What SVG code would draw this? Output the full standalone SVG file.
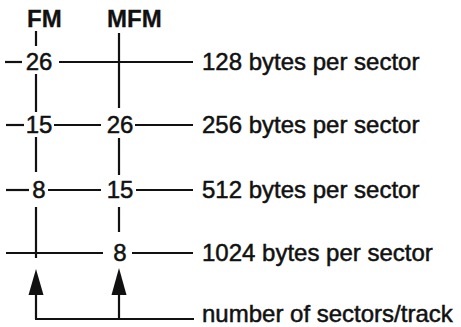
<svg xmlns="http://www.w3.org/2000/svg" width="461" height="327" viewBox="0 0 461 327">
<style>
text{font-family:"Liberation Sans",Arial,sans-serif;font-size:24px;fill:#111;stroke:#111;stroke-width:0.5}
.h{font-weight:bold;stroke-width:0.3}
.n{text-anchor:middle}
.c line{stroke:#111;stroke-width:2.2;fill:none}
.c path{fill:#111;stroke:none}
</style>
<rect width="461" height="327" fill="#fff"/>
<g class="c" id="connectors">
<!-- row 1 -->
<line x1="5" y1="62" x2="22" y2="62"/>
<line x1="59" y1="62" x2="193" y2="62"/>
<!-- row 2 -->
<line x1="6" y1="125" x2="24" y2="125"/>
<line x1="54" y1="125" x2="101" y2="125"/>
<line x1="135" y1="125" x2="193" y2="125"/>
<!-- row 3 -->
<line x1="6" y1="190" x2="29" y2="190"/>
<line x1="48" y1="190" x2="101" y2="190"/>
<line x1="136" y1="190" x2="193" y2="190"/>
<!-- row 4 -->
<line x1="6" y1="253" x2="103" y2="253"/>
<line x1="132" y1="253" x2="193" y2="253"/>
<!-- FM vertical -->
<line x1="36" y1="31" x2="36" y2="46"/>
<line x1="36" y1="74" x2="36" y2="112"/>
<line x1="36" y1="137" x2="36" y2="172"/>
<line x1="36" y1="207" x2="36" y2="258"/>
<!-- MFM vertical -->
<line x1="119" y1="33" x2="119" y2="108"/>
<line x1="119" y1="138" x2="119" y2="175"/>
<line x1="119" y1="207" x2="119" y2="232"/>
<!-- arrows -->
<line x1="36" y1="292" x2="36" y2="319"/>
<line x1="119" y1="292" x2="119" y2="319"/>
<line x1="35" y1="319" x2="194" y2="319"/>
<path d="M36,269 L43.5,295 L28.5,295 Z"/>
<path d="M119,268 L126.5,295 L111.5,295 Z"/>
</g>
<g id="hdr-fm"><text class="h" x="27" y="27">FM</text></g>
<g id="hdr-mfm"><text class="h" x="107" y="27">MFM</text></g>
<g id="fm-26"><text class="n" x="39" y="70">26</text></g>
<g id="fm-15"><text class="n" x="39" y="133">15</text></g>
<g id="fm-8"><text class="n" x="39" y="198">8</text></g>
<g id="mfm-26"><text class="n" x="120" y="133">26</text></g>
<g id="mfm-15"><text class="n" x="120" y="198">15</text></g>
<g id="mfm-8"><text class="n" x="120" y="261">8</text></g>
<g id="lbl-128"><text x="202" y="70">128 bytes per sector</text></g>
<g id="lbl-256"><text x="202" y="133">256 bytes per sector</text></g>
<g id="lbl-512"><text x="202" y="198">512 bytes per sector</text></g>
<g id="lbl-1024"><text x="202" y="261">1024 bytes per sector</text></g>
<g id="lbl-num"><text x="202" y="322">number of sectors/track</text></g>
</svg>
